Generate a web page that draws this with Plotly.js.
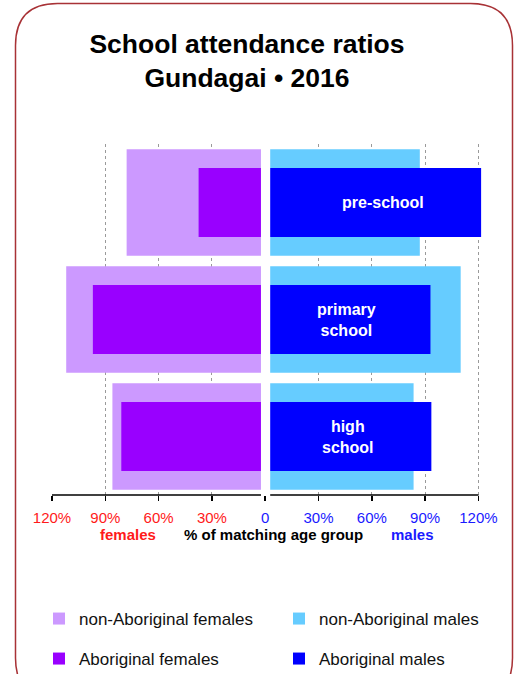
<!DOCTYPE html>
<html><head><meta charset="utf-8">
<script src="https://cdn.plot.ly/plotly-3.0.1.min.js"></script>
<style>html,body{margin:0;padding:0;background:#fff}#chart{width:522px;height:674px}</style>
</head><body><div id="chart"></div>
<script>
// ---- data ----
const categories = ['pre-school', 'primary school', 'high school'];
const categoryLabels = ['pre-school', 'primary<br>school', 'high<br>school'];
const nonAboriginalFemales = [78, 112, 86];
const aboriginalFemales = [37.5, 97, 81];
const nonAboriginalMales = [87, 110, 83.5];
const aboriginalMales = [121.5, 93, 93.5];
const tickValues = [-120, -90, -60, -30, 0, 30, 60, 90, 120];
const tickLabels = ['120%', '90%', '60%', '30%', '0', '30%', '60%', '90%', '120%'];

// ---- style / layout helpers ----
const W = 522, H = 674;
const M = {l: 52, r: 40, t: 144, b: 179};
const PW = W - M.l - M.r, PH = H - M.t - M.b;
const px = x => (x - M.l) / PW;
const py = y => (H - M.b - y) / PH;
const FONT = 'Liberation Sans, Arial, sans-serif';
const RED = '#ff1a1a', BLUE = '#1a1aff';

const tickText = tickLabels.map((t, i) =>
  `<span style="color:${tickValues[i] < 0 ? RED : BLUE}">${t}</span>`);

const neg = a => a.map(v => -v);
const wide = 0.91, narrow = 0.59;

const traces = [
  {type: 'bar', orientation: 'h', name: 'non-Aboriginal females', y: categories,
   x: neg(nonAboriginalFemales), width: wide, marker: {color: '#cc99ff'}, legend: 'legend'},
  {type: 'bar', orientation: 'h', name: 'non-Aboriginal males', y: categories,
   x: nonAboriginalMales, width: wide, marker: {color: '#66ccff'}, legend: 'legend'},
  {type: 'bar', orientation: 'h', name: 'Aboriginal females', y: categories,
   x: neg(aboriginalFemales), width: narrow, marker: {color: '#9900ff'}, legend: 'legend2'},
  {type: 'bar', orientation: 'h', name: 'Aboriginal males', y: categories,
   x: aboriginalMales, width: narrow, marker: {color: '#0000ff'}, legend: 'legend2'}
];
traces.forEach(t => t.hoverinfo = 'skip');

// rounded border path (pixel -> paper)
const bx0 = 15.5, bx1 = 512.5, by0 = 3.5, by1 = 700, rr = 42;
const P = (x, y) => `${px(x)},${py(y)}`;
const borderPath = `M${P(bx0 + rr, by0)} L${P(bx1 - rr, by0)} Q${P(bx1, by0)} ${P(bx1, by0 + rr)} ` +
  `L${P(bx1, by1 - rr)} Q${P(bx1, by1)} ${P(bx1 - rr, by1)} L${P(bx0 + rr, by1)} ` +
  `Q${P(bx0, by1)} ${P(bx0, by1 - rr)} L${P(bx0, by0 + rr)} Q${P(bx0, by0)} ${P(bx0 + rr, by0)} Z`;

const labelX = [66, 46, 46.5];
const annotations = categories.map((c, i) => ({
  x: labelX[i], y: c, xref: 'x', yref: 'y', text: categoryLabels[i], showarrow: false,
  xanchor: 'center', yanchor: 'middle',
  font: {family: FONT, size: 16, color: '#ffffff', weight: 'bold'}
}));
const axisNote = (x, text, color) => ({
  xref: 'paper', yref: 'paper', x: px(x), y: py(534), xanchor: 'center', yanchor: 'middle',
  text: text, showarrow: false, font: {family: FONT, size: 15, color: color, weight: 'bold'}
});
annotations.push(
  axisNote(127.5, 'females', RED),
  axisNote(273, '% of matching age group', '#000'),
  axisNote(412, 'males', BLUE)
);

const legendBase = {
  orientation: 'h', xref: 'paper', xanchor: 'left', yanchor: 'middle', x: px(39),
  entrywidth: 195, entrywidthmode: 'pixels', bgcolor: 'rgba(0,0,0,0)',
  font: {family: FONT, size: 17, color: '#111'}
};

const layout = {
  width: W, height: H,
  margin: {l: M.l, r: M.r, t: M.t, b: M.b, autoexpand: false},
  paper_bgcolor: '#fff', plot_bgcolor: '#fff',
  barmode: 'overlay',
  showlegend: true,
  title: {text: 'School attendance ratios<br>Gundagai • 2016', x: 247 / W, xref: 'container',
          xanchor: 'center', y: 1 - 53 / H, yref: 'container', yanchor: 'top',
          font: {family: FONT, size: 26.5, color: '#000', weight: 'bold'}},
  xaxis: {range: [-120, 122], tickvals: tickValues, ticktext: tickText,
          showgrid: true, gridcolor: '#9a9a9a', griddash: 'dot', gridwidth: 1,
          zeroline: false, showline: false, ticks: 'outside', ticklen: 5, tickwidth: 1.5,
          tickcolor: '#000', ticklabelstandoff: 4,
          tickfont: {family: FONT, size: 15}, fixedrange: true},
  yaxis: {type: 'category', categoryorder: 'array', categoryarray: categories,
          range: [2.5, -0.5], showticklabels: false, showgrid: false, zeroline: false,
          showline: false, ticks: '', fixedrange: true},
  shapes: [
    {type: 'rect', xref: 'x', yref: 'paper', x0: -2.4, x1: 2.8, y0: 0, y1: 1.02,
     fillcolor: '#fff', line: {width: 0}, layer: 'above'},
    {type: 'line', xref: 'x', yref: 'paper', x0: -120, x1: -2.4, y0: 0, y1: 0,
     line: {color: '#000', width: 1.5}, layer: 'above'},
    {type: 'line', xref: 'x', yref: 'paper', x0: 2.8, x1: 120, y0: 0, y1: 0,
     line: {color: '#000', width: 1.5}, layer: 'above'},
    {type: 'path', xref: 'paper', yref: 'paper', path: borderPath,
     line: {color: '#a83236', width: 1.5}, fillcolor: 'rgba(0,0,0,0)', layer: 'above'}
  ],
  annotations: annotations,
  legend: Object.assign({}, legendBase, {y: py(619)}),
  legend2: Object.assign({}, legendBase, {y: py(659)}),
  hovermode: false
};

Plotly.newPlot('chart', traces, layout, {displayModeBar: false, staticPlot: true});
</script>
</body></html>
